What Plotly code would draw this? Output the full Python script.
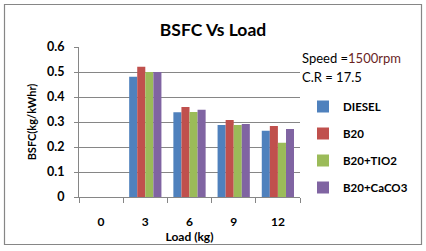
import plotly.graph_objects as go

loads = ["0", "3", "6", "9", "12"]
diesel = [None, 0.481, 0.339, 0.288, 0.265]
b20 = [None, 0.521, 0.360, 0.308, 0.284]
b20_tio2 = [None, 0.500, 0.340, 0.288, 0.217]
b20_caco3 = [None, 0.500, 0.349, 0.292, 0.272]
series_names = ["DIESEL", "B20", "B20+TIO2", "B20+CaCO3"]
colors = ["#4F81BD", "#C0504D", "#9BBB59", "#8064A2"]

FONT = "Lato, Open Sans, sans-serif"

fig = go.Figure()
for i, (name, vals, c) in enumerate(zip(series_names, [diesel, b20, b20_tio2, b20_caco3], colors)):
    fig.add_trace(go.Bar(x=loads, y=vals, name=name, marker=dict(color=c, line=dict(width=0)),
                         legendgroup=name))

L, R, T, B = 79, 126, 47, 54
W, H = 426, 251
pw, ph = W - L - R, H - T - B

def px(x):
    return (x - L) / pw

def py(y):
    return (H - B - y) / ph

fig.update_layout(
    width=W, height=H,
    margin=dict(l=L, r=R, t=T, b=B, autoexpand=False),
    paper_bgcolor="white", plot_bgcolor="white",
    font=dict(family=FONT, color="black", size=12),
    barmode="group", bargap=0.27, bargroupgap=0,
    title=dict(text="<b>BSFC Vs Load</b>", x=213 / W, xref="container", xanchor="center",
               y=1 - 30 / H, yref="container", yanchor="middle", font=dict(size=17.5, family=FONT)),
    showlegend=True,
    legend=dict(x=303 / W, y=1 - 92 / H, xref="container", yref="container",
                xanchor="left", yanchor="top",
                font=dict(size=11.5, family=FONT, weight="bold"),
                tracegroupgap=8, itemwidth=30, bgcolor="rgba(0,0,0,0)"),
    xaxis=dict(type="category", showline=True, linecolor="#868686", linewidth=1,
               ticks="outside", tickson="boundaries", ticklen=5, tickcolor="#868686",
               tickfont=dict(size=12, family=FONT, weight="bold"), ticklabelstandoff=14,
               title=dict(text="<b>Load (kg)</b>", font=dict(size=12, family=FONT), standoff=0),
               showgrid=False, fixedrange=True, automargin=False),
    yaxis=dict(range=[0, 0.6], dtick=0.1, showline=True, linecolor="#868686", linewidth=1,
               ticks="outside", ticklen=4, tickcolor="#868686",
               showgrid=True, gridcolor="#868686", gridwidth=1, zeroline=False,
               tickfont=dict(size=12.5, family=FONT, weight="bold"), ticklabelstandoff=7,
               title=dict(text="<b>BSFC(kg/kWhr)</b>", font=dict(size=11, family=FONT), standoff=8),
               fixedrange=True, automargin=False),
    shapes=[dict(type="rect", xref="paper", yref="paper",
                 x0=px(4.5), x1=px(421.5), y0=py(244.5), y1=py(4.5),
                 line=dict(color="#868686", width=1.2), fillcolor="rgba(0,0,0,0)", layer="above")],
    annotations=[
        dict(text="Speed =<span style='color:#6b1f1f'>1500rpm</span>", x=px(300), y=py(58),
             xref="paper", yref="paper", xanchor="left", yanchor="middle", showarrow=False,
             font=dict(size=13, family=FONT)),
        dict(text="C.R = 17.5", x=px(300), y=py(77), xref="paper", yref="paper",
             xanchor="left", yanchor="middle", showarrow=False, font=dict(size=13, family=FONT)),
    ],
)

fig.write_html("out.html", config={"displayModeBar": False},
               post_script="document.body.style.margin='0';document.body.style.overflow='hidden';")
